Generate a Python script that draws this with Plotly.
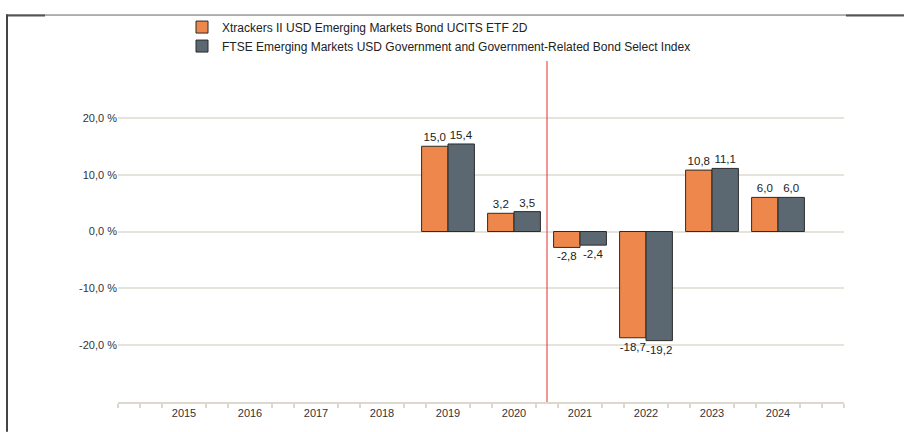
import plotly.graph_objects as go

years = [2015, 2016, 2017, 2018, 2019, 2020, 2021, 2022, 2023, 2024]
year_labels = [str(y) for y in years]
fund_name = "Xtrackers II USD Emerging Markets Bond UCITS ETF 2D"
index_name = "FTSE Emerging Markets USD Government and Government-Related Bond Select Index"
fund_values = [None, None, None, None, 15.0, 3.2, -2.8, -18.7, 10.8, 6.0]
index_values = [None, None, None, None, 15.4, 3.5, -2.4, -19.2, 11.1, 6.0]
y_tick_values = [-30, -20, -10, 0, 10, 20, 30]
y_tick_labels = ["", "-20,0 %", "-10,0 %", "0,0 %", "10,0 %", "20,0 %", ""]
divider_x = 2020.5

W, H = 904, 432
L, R, T, B = 118, 60, 57, 30
pw, ph = W - L - R, H - T - B

def px(p):
    return (p - L) / pw

def py(p):
    return (H - B - p) / ph

orange = "#EE874B"
grey = "#5B6872"
edge = "#2b2b2b"

fig = go.Figure()
fig.add_trace(go.Bar(
    x=years, y=fund_values, name=fund_name,
    marker=dict(color=orange, line=dict(color=edge, width=1)),
    texttemplate="%{y:.1f}", textposition="outside",
    textfont=dict(size=11.5, color="#222222"), cliponaxis=False,
))
fig.add_trace(go.Bar(
    x=years, y=index_values, name=index_name,
    marker=dict(color=grey, line=dict(color=edge, width=1)),
    texttemplate="%{y:.1f}", textposition="outside",
    textfont=dict(size=11.5, color="#222222"), cliponaxis=False,
))

minor_vals = []
for k in range(0, 34):
    v = years[0] - 1 + k / 3
    if k % 3 == 0 and years[0] <= round(v) <= years[-1]:
        continue
    minor_vals.append(v)

fig.update_layout(
    width=W, height=H,
    margin=dict(l=L, r=R, t=T, b=B),
    paper_bgcolor="white", plot_bgcolor="white",
    font=dict(family="Liberation Sans, Arial, sans-serif", size=11, color="#333333"),
    separators=",.",
    barmode="group", bargap=0.2, bargroupgap=0.0,
    showlegend=True,
    legend=dict(
        orientation="v", x=px(182), y=py(8), xanchor="left", yanchor="top",
        font=dict(size=12, color="#222222"), bgcolor="rgba(0,0,0,0)",
        tracegroupgap=0, itemwidth=30,
    ),
    xaxis=dict(
        range=[years[0] - 1, years[-1] + 1],
        tickmode="array", tickvals=years, ticktext=year_labels,
        ticks="", showgrid=False, zeroline=False,
        showline=True, linecolor="#ddd8ce", linewidth=2,
        tickfont=dict(size=11, color="#333333"),
        minor=dict(tickmode="array", tickvals=minor_vals, ticks="outside",
                   ticklen=4, tickwidth=2, tickcolor="#ddd8ce", showgrid=False),
    ),
    yaxis=dict(
        range=[-30, 30], tickmode="array", tickvals=y_tick_values, ticktext=y_tick_labels,
        showgrid=True, gridcolor="#e6e3dd", gridwidth=1.5,
        zeroline=False, showline=False, ticks="",
        tickfont=dict(size=11, color="#333333"),
    ),
    shapes=[
        dict(type="line", xref="x", yref="y", x0=divider_x, x1=divider_x, y0=-30, y1=30,
             line=dict(color="#e03030", width=1)),
        dict(type="line", xref="paper", yref="paper", x0=px(6), x1=px(904), y0=py(10.5), y1=py(10.5),
             line=dict(color="#666666", width=1)),
        dict(type="line", xref="paper", yref="paper", x0=px(6), x1=px(45), y0=py(11), y1=py(11),
             line=dict(color="#555555", width=2)),
        dict(type="line", xref="paper", yref="paper", x0=px(846), x1=px(904), y0=py(11), y1=py(11),
             line=dict(color="#555555", width=2)),
        dict(type="line", xref="paper", yref="paper", x0=px(7), x1=px(7), y0=py(10), y1=py(432),
             line=dict(color="#444444", width=2)),
    ],
)

fig.write_html("out.html", config={"displayModeBar": False},
               post_script="document.body.style.margin='0';document.body.style.overflow='hidden';")
